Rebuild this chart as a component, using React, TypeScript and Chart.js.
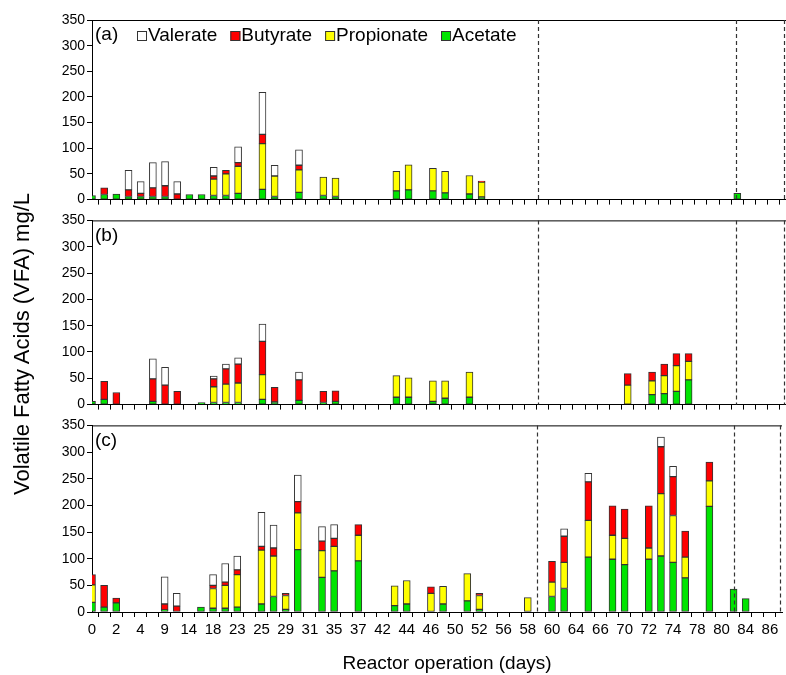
import React, { useEffect, useRef } from 'react';
import { Chart, registerables } from 'chart.js';

Chart.register(...registerables);

const FONT = "'Liberation Sans', Arial, Helvetica, sans-serif";

// Sampling slots along the x axis; only every second slot carries a day label.
const dayLabels = [
  '0', '', '2', '', '4', '', '9', '', '14', '', '18', '', '23', '', '25', '',
  '29', '', '31', '', '35', '', '37', '', '42', '', '44', '', '46', '', '50', '',
  '52', '', '56', '', '58', '', '60', '', '64', '', '66', '', '70', '', '72', '',
  '74', '', '78', '', '80', '', '84', '', '86', '',
];

// Reactor (a): slot index of each sample and VFA concentrations (mg/L)
const aSlots = [0, 1, 2, 3, 4, 5, 6, 7, 8, 9, 10, 11, 12, 14, 15, 17, 19, 20, 25, 26, 28, 29, 31, 32, 53];
const aAcetate = [8, 10, 11, 6, 6, 6, 6, null, 10, 10, 8, 8, 12, 20, 6, 14, 8, 6, 17, 19, 17, 13, 11, 5, 12];
const aPropionate = [null, null, null, null, null, null, null, null, null, null, 32, 42, 53, 89, 40, 44, 36, 36, 38, 49, 44, 42, 36, 29, null];
const aButyrate = [null, 13, null, 13, 6, 17, 21, 11, null, null, 6, 7, 7, 18, null, 9, null, null, null, null, null, null, null, 2, null];
const aValerate = [null, null, null, 38, 23, 49, 47, 24, null, null, 17, null, 31, 82, 21, 30, null, null, null, null, null, null, null, null, null];

// Reactor (b)
const bSlots = [0, 1, 2, 5, 6, 7, 9, 10, 11, 12, 14, 15, 17, 19, 20, 25, 26, 28, 29, 31, 44, 46, 47, 48, 49];
const bAcetate = [6, 10, null, 6, null, null, 4, 4, 4, 4, 10, 5, 8, 4, 6, 14, 14, 6, 12, 14, null, 19, 21, 25, 47];
const bPropionate = [null, null, null, null, null, null, null, 30, 35, 37, 47, null, null, null, null, 41, 37, 39, 33, 48, 37, 26, 34, 49, 35];
const bButyrate = [null, 34, 23, 43, 37, 25, null, 15, 29, 36, 63, 28, 39, 21, 20, null, null, null, null, null, 22, 17, 22, 23, 15];
const bValerate = [null, null, null, 38, 34, null, null, 5, 9, 12, 33, null, 15, null, null, null, null, null, null, null, null, null, null, null, null];

// Reactor (c)
const cSlots = [0, 1, 2, 6, 7, 9, 10, 11, 12, 14, 15, 16, 17, 19, 20, 22, 25, 26, 28, 29, 31, 32, 36, 38, 39, 41, 43, 44, 46, 47, 48, 49, 51, 53, 54];
const cAcetate = [18, 9, 17, 4, null, 9, 7, 7, 9, 15, 29, 5, 117, 65, 77, 96, 12, 15, null, 15, 21, 5, null, 29, 44, 103, 99, 89, 99, 105, 93, 64, 198, 43, 25];
const cPropionate = [33, null, null, null, null, null, 37, 43, 61, 101, 76, 26, 69, 50, 46, 48, 37, 44, 35, 33, 51, 26, 27, 27, 49, 69, 45, 49, 21, 117, 88, 39, 48, null, null];
const cButyrate = [19, 41, 9, 11, 11, null, 6, 6, 9, 7, 15, 4, 21, 18, 15, 20, null, null, 12, null, null, 4, null, 39, 49, 72, 55, 55, 79, 88, 73, 49, 35, null, null];
const cValerate = [null, null, null, 51, 24, null, 20, 35, 26, 64, 43, null, 50, 27, 26, null, null, null, null, null, null, null, null, null, 14, 16, null, null, null, 18, 19, null, null, null, null];

// Phase boundaries (in slot units) drawn as dashed verticals
const aPhases = [36.6, 52.9, 56.84];
const bPhases = [36.6, 52.9, 56.84];
const cPhases = [36.8, 53, 56.84];

const acidNames = ['Acetate', 'Propionate', 'Butyrate', 'Valerate'];
const acidColors = ['#00e400', '#ffff00', '#ff0000', '#ffffff'];
const legendOrder = [3, 2, 1, 0];

type Val = number | null;

function spread(slots: number[], vals: Val[]): Val[] {
  const out: Val[] = dayLabels.map(() => null);
  slots.forEach((slot, k) => {
    out[slot] = vals[k];
  });
  return out;
}

type Panel = {
  tag: string;
  slots: number[];
  series: Val[][];
  phases: number[];
  top: number;
  height: number;
  padTop: number;
  axisHeight: number;
  showLabels: boolean;
  legend: boolean;
};

const panels: Panel[] = [
  { tag: '(a)', slots: aSlots, series: [aAcetate, aPropionate, aButyrate, aValerate], phases: aPhases, top: 0, height: 210, padTop: 20, axisHeight: 8, showLabels: false, legend: true },
  { tag: '(b)', slots: bSlots, series: [bAcetate, bPropionate, bButyrate, bValerate], phases: bPhases, top: 210, height: 205, padTop: 10, axisHeight: 8, showLabels: false, legend: false },
  { tag: '(c)', slots: cSlots, series: [cAcetate, cPropionate, cButyrate, cValerate], phases: cPhases, top: 415, height: 260, padTop: 8, axisHeight: 63, showLabels: true, legend: false },
];

const panelDecor = {
  id: 'panelDecor',
  afterDatasetsDraw(chart: any, _args: any, opts: any) {
    const { ctx, chartArea } = chart;
    const { left, right, top, bottom } = chartArea;
    const x = chart.scales.x;
    ctx.save();

    // frame line along the top of the panel
    ctx.strokeStyle = '#000';
    ctx.lineWidth = 1;
    ctx.beginPath();
    ctx.moveTo(left, top + 0.5);
    ctx.lineTo(right, top + 0.5);
    ctx.stroke();

    // dashed phase boundaries
    ctx.strokeStyle = '#333';
    ctx.lineWidth = 1.2;
    ctx.setLineDash([4, 3]);
    for (const g of opts.phases as number[]) {
      const px = Math.round(x.getPixelForValue(g)) + 0.5;
      ctx.beginPath();
      ctx.moveTo(px, top);
      ctx.lineTo(px, bottom);
      ctx.stroke();
    }
    ctx.setLineDash([]);

    // panel tag
    ctx.fillStyle = '#000';
    ctx.font = `19px ${FONT}`;
    ctx.textBaseline = 'middle';
    ctx.textAlign = 'left';
    ctx.fillText(opts.tag, left + 3, top + 15);

    if (opts.legend) {
      let lx = 137;
      const ly = top + 16;
      for (const s of legendOrder) {
        ctx.fillStyle = acidColors[s];
        ctx.fillRect(lx, ly - 5, 10, 10);
        ctx.strokeStyle = '#333';
        ctx.lineWidth = 1;
        ctx.strokeRect(lx + 0.5, ly - 4.5, 9, 9);
        ctx.fillStyle = '#000';
        ctx.fillText(acidNames[s], lx + 11, ly);
        lx += 11 + ctx.measureText(acidNames[s]).width + 13;
      }
    }
    ctx.restore();
  },
};

function buildConfig(p: Panel): any {
  return {
    type: 'bar',
    data: {
      labels: dayLabels,
      datasets: acidNames.map((name, s) => ({
        label: name,
        data: spread(p.slots, p.series[s]),
        backgroundColor: acidColors[s],
        borderColor: '#333',
        borderWidth: 1,
        borderSkipped: false,
        barThickness: 7,
        stack: 'vfa',
        clip: 0,
      })),
    },
    options: {
      responsive: false,
      animation: false,
      devicePixelRatio: 1,
      layout: { padding: { top: p.padTop, left: 0, right: 0, bottom: 0 } },
      plugins: {
        legend: { display: false },
        tooltip: { enabled: false },
        panelDecor: { tag: p.tag, phases: p.phases, legend: p.legend },
      },
      scales: {
        x: {
          stacked: true,
          offset: false,
          grid: { display: true, drawOnChartArea: false, drawTicks: true, tickLength: 5, color: '#000' },
          border: { display: true, color: '#000', width: 1 },
          ticks: {
            display: p.showLabels,
            autoSkip: false,
            maxRotation: 0,
            minRotation: 0,
            padding: 4,
            color: '#000',
            font: { family: FONT, size: 15 },
          },
          afterFit: (s: any) => {
            s.height = p.axisHeight;
          },
        },
        y: {
          stacked: true,
          min: 0,
          max: 350,
          grid: { drawOnChartArea: false, tickLength: 5, color: '#000' },
          border: { display: true, color: '#000', width: 1 },
          ticks: { stepSize: 50, padding: 2, color: '#000', font: { family: FONT, size: 14 } },
          afterFit: (s: any) => {
            s.width = 92;
          },
        },
      },
    },
    plugins: [panelDecor],
  };
}

export default function App() {
  const refA = useRef<HTMLCanvasElement>(null);
  const refB = useRef<HTMLCanvasElement>(null);
  const refC = useRef<HTMLCanvasElement>(null);
  const refs = [refA, refB, refC];

  useEffect(() => {
    const charts = panels.map((p, k) => new Chart(refs[k].current as HTMLCanvasElement, buildConfig(p)));
    return () => charts.forEach((c) => c.destroy());
  }, []);

  return (
    <div style={{ position: 'absolute', left: 0, top: 0, width: 786, height: 675, background: '#fff', overflow: 'hidden', fontFamily: FONT, color: '#000' }}>
      {panels.map((p, k) => (
        <canvas key={p.tag} ref={refs[k]} width={786} height={p.height} style={{ position: 'absolute', left: 0, top: p.top }} />
      ))}
      <div style={{ position: 'absolute', left: 247, top: 651, width: 400, textAlign: 'center', fontSize: 19, lineHeight: '24px', whiteSpace: 'nowrap' }}>
        Reactor operation (days)
      </div>
      <div style={{ position: 'absolute', left: 22 - 200, top: 344 - 12, width: 400, height: 24, lineHeight: '24px', textAlign: 'center', fontSize: 22, whiteSpace: 'nowrap', transform: 'rotate(-90deg)' }}>
        Volatile Fatty Acids (VFA) mg/L
      </div>
    </div>
  );
}
